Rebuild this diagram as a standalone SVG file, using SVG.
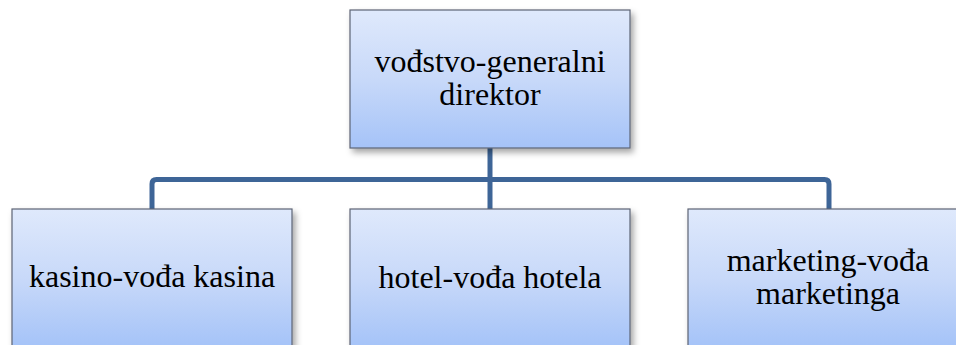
<svg xmlns="http://www.w3.org/2000/svg" width="956" height="345" viewBox="0 0 956 345">
<defs>
<linearGradient id="g" x1="0" y1="0" x2="0" y2="1">
<stop offset="0" stop-color="#dfe9fc"/>
<stop offset="0.5" stop-color="#c8d9f9"/>
<stop offset="1" stop-color="#a5c3f8"/>
</linearGradient>
<filter id="sh" x="-10%" y="-10%" width="125%" height="130%">
<feDropShadow dx="3" dy="4" stdDeviation="3" flood-color="#000" flood-opacity="0.35"/>
</filter>
</defs>
<style>
.box{fill:url(#g);stroke:#5d6475;stroke-width:1.2;filter:url(#sh)}
text{font-family:'Liberation Serif','Times New Roman',serif;font-size:32px;fill:#000;text-anchor:middle}
.c{fill:none;stroke:#3e6597;stroke-width:5;stroke-linejoin:round}
</style>
<rect width="956" height="345" fill="#fff"/>
<g id="connectors">
<path class="c" d="M490 148 V179.5"/>
<path class="c" d="M152 209 V184 Q152 179.5 156.5 179.5 H824.5 Q829 179.5 829 184 V209"/>
<path class="c" d="M490 179.5 V209"/>
</g>
<g id="n-direktor">
<rect class="box" x="350" y="10" width="280" height="138"/>
<text x="490" y="72">vođstvo-generalni</text>
<text x="490" y="105">direktor</text>
</g>
<g id="n-kasino">
<rect class="box" x="12" y="209" width="280" height="138"/>
<text x="152" y="287">kasino-vođa kasina</text>
</g>
<g id="n-hotel">
<rect class="box" x="350" y="209" width="280" height="138"/>
<text x="490" y="288">hotel-vođa hotela</text>
</g>
<g id="n-marketing">
<rect class="box" x="688" y="209" width="280" height="138"/>
<text x="828" y="271">marketing-vođa</text>
<text x="828" y="304">marketinga</text>
</g>
</svg>
